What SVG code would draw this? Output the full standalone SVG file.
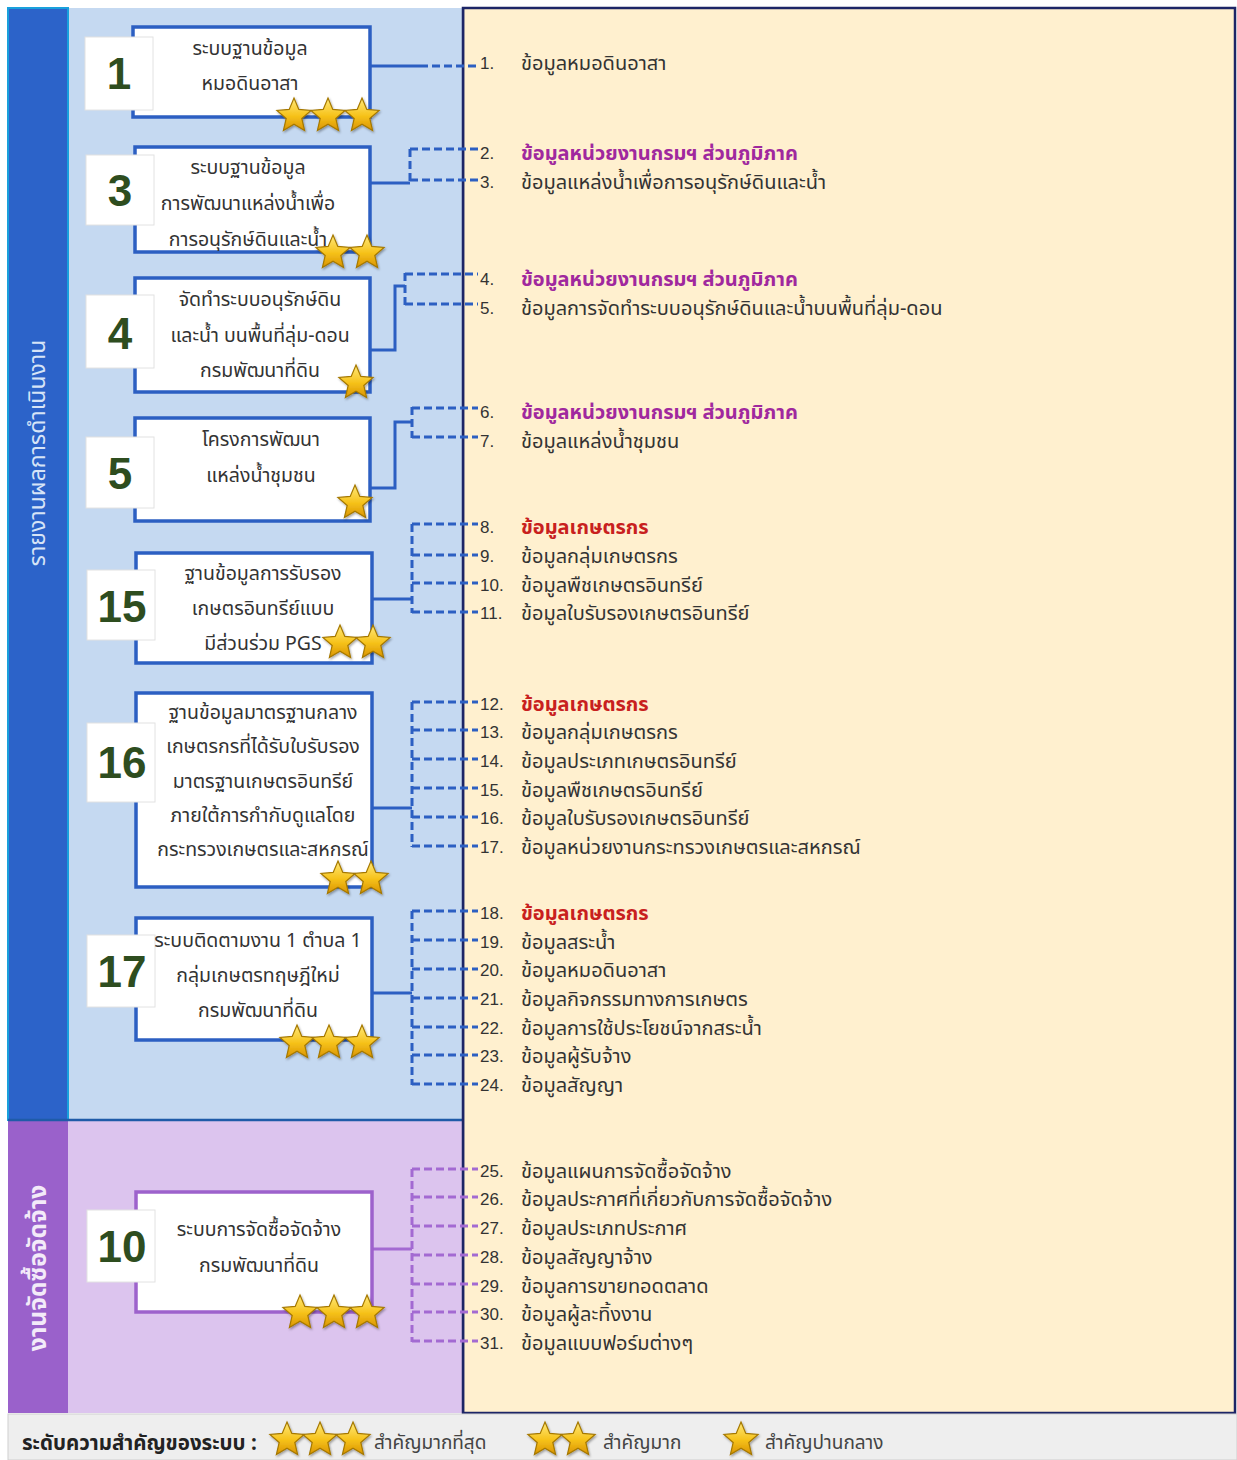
<svg xmlns="http://www.w3.org/2000/svg" xmlns:xlink="http://www.w3.org/1999/xlink" width="1237" height="1460" viewBox="0 0 1237 1460">
<defs>
<linearGradient id="gold" x1="0" y1="0" x2="0" y2="1">
<stop offset="0" stop-color="#ffe97a"/>
<stop offset="0.55" stop-color="#f6c21a"/>
<stop offset="1" stop-color="#d99300"/>
</linearGradient>
<filter id="sh" x="-30%" y="-30%" width="160%" height="160%">
<feDropShadow dx="1" dy="1.5" stdDeviation="1.2" flood-color="#000" flood-opacity="0.35"/>
</filter>
<path id="star" d="M0,-18 L4.8,-6.6 L17.1,-5.6 L7.8,2.5 L10.6,14.6 L0,8.2 L-10.6,14.6 L-7.8,2.5 L-17.1,-5.6 L-4.8,-6.6 Z" fill="url(#gold)" stroke="#a57800" stroke-width="1.2" filter="url(#sh)"/>
</defs>
<style>
.th{font-family:"Noto Sans Thai","Tahoma","Noto Sans","DejaVu Sans",sans-serif}
.nt{font-size:19.5px;fill:#333;text-anchor:middle}
.num{font-family:"Liberation Sans",Arial,sans-serif;font-weight:bold;font-size:44px;fill:#2e4d1f;text-anchor:middle}
.it{font-size:20px;fill:#333}
.in{font-family:"Liberation Sans",Arial,sans-serif;font-size:17px;fill:#333}
.mag{fill:#a0289e;font-weight:bold}
.red{fill:#c8201e;font-weight:bold}
.box{fill:#fff;stroke:#2c5fc2;stroke-width:3.5}
.boxp{fill:#fff;stroke:#9d62cc;stroke-width:3.5}
.sq{fill:#fff;stroke:#e2e2e2;stroke-width:1}
.sol{stroke:#2c5fc2;stroke-width:3;fill:none}
.dsh{stroke:#2c5fc2;stroke-width:3;stroke-dasharray:8 4;fill:none}
.solp{stroke:#a36ad2;stroke-width:3;fill:none}
.dshp{stroke:#a36ad2;stroke-width:3;stroke-dasharray:8 4;fill:none}
</style>

<!-- background panels -->
<rect x="463" y="8" width="772" height="1405" fill="#fff0cf" stroke="#1c2566" stroke-width="2.5"/>
<rect x="68" y="8" width="395" height="1112" fill="#c5d9f1"/>
<rect x="8" y="8" width="60" height="1112" fill="#2c63c9" stroke="#19a0dc" stroke-width="2"/>
<rect x="68" y="1121" width="395" height="292" fill="#dcc4ee"/>
<rect x="8" y="1121" width="60" height="292" fill="#9a61cb"/>
<line x1="8" y1="1120" x2="463" y2="1120" stroke="#1f5ba8" stroke-width="2.5"/>
<line x1="463" y1="8" x2="463" y2="1413" stroke="#1c2566" stroke-width="2.5"/>
<text class="th" transform="translate(45,453) rotate(-90)" text-anchor="middle" font-size="23" fill="#d6e4f7">รายงานผลการดำเนินงาน</text>
<text class="th" transform="translate(46,1268) rotate(-90)" text-anchor="middle" font-size="24.5" font-weight="bold" fill="#f3eaf9">งานจัดซื้อจัดจ้าง</text>

<!-- connectors -->
<g id="connectors">
<path class="sol" d="M370,66 H420"/>
<path class="dsh" d="M420,66 H478"/>
<path class="sol" d="M370,183 H410"/>
<path class="dsh" d="M410,149 V181 M410,149 H478 M410,180 H478"/>
<path class="sol" d="M370,350 H395 V286 H405"/>
<path class="dsh" d="M405,273 V305 M405,274 H478 M405,304 H478"/>
<path class="sol" d="M370,488 H395 V422 H412"/>
<path class="dsh" d="M412,407 V438 M412,408 H478 M412,437 H478"/>
<path class="sol" d="M372,599 H412"/>
<path class="dsh" d="M412,524 V613 M412,524 H478 M412,555 H478 M412,583 H478 M412,612 H478"/>
<path class="sol" d="M372,808 H412"/>
<path class="dsh" d="M412,702 V847 M412,702 H478 M412,730 H478 M412,759 H478 M412,788 H478 M412,817 H478 M412,846 H478"/>
<path class="sol" d="M372,993 H412"/>
<path class="dsh" d="M412,911 V1085 M412,911 H478 M412,940 H478 M412,969 H478 M412,998 H478 M412,1027 H478 M412,1055 H478 M412,1084 H478"/>
<path class="solp" d="M372,1249 H412"/>
<path class="dshp" d="M412,1169 V1342 M412,1169 H478 M412,1197 H478 M412,1226 H478 M412,1255 H478 M412,1284 H478 M412,1312 H478 M412,1341 H478"/>
</g>

<!-- nodes -->
<g id="node1">
<rect class="box" x="133" y="27" width="237" height="90"/>
<rect class="sq" x="85" y="37" width="68" height="73"/>
<text class="num" x="119" y="89">1</text>
<text class="th nt" x="250" y="55">ระบบฐานข้อมูล</text>
<text class="th nt" x="250" y="90">หมอดินอาสา</text>
<use href="#star" x="294" y="116"/><use href="#star" x="328" y="116"/><use href="#star" x="362" y="116"/>
</g>
<g id="node3">
<rect class="box" x="135" y="147" width="235" height="105"/>
<rect class="sq" x="86" y="155" width="68" height="70"/>
<text class="num" x="120" y="206">3</text>
<text class="th nt" x="248" y="174">ระบบฐานข้อมูล</text>
<text class="th nt" x="248" y="210">การพัฒนาแหล่งน้ำเพื่อ</text>
<text class="th nt" x="248" y="246">การอนุรักษ์ดินและน้ำ</text>
<use href="#star" x="333" y="253"/><use href="#star" x="367" y="253"/>
</g>
<g id="node4">
<rect class="box" x="135" y="278" width="235" height="114"/>
<rect class="sq" x="86" y="295" width="68" height="73"/>
<text class="num" x="120" y="349">4</text>
<text class="th nt" x="260" y="306">จัดทำระบบอนุรักษ์ดิน</text>
<text class="th nt" x="260" y="342">และน้ำ บนพื้นที่ลุ่ม-ดอน</text>
<text class="th nt" x="260" y="377">กรมพัฒนาที่ดิน</text>
<use href="#star" x="356" y="383"/>
</g>
<g id="node5">
<rect class="box" x="135" y="418" width="235" height="103"/>
<rect class="sq" x="86" y="437" width="68" height="71"/>
<text class="num" x="120" y="489">5</text>
<text class="th nt" x="261" y="446">โครงการพัฒนา</text>
<text class="th nt" x="261" y="482">แหล่งน้ำชุมชน</text>
<use href="#star" x="355" y="503"/>
</g>
<g id="node15">
<rect class="box" x="136" y="553" width="236" height="110"/>
<rect class="sq" x="87" y="570" width="68" height="70"/>
<text class="num" x="122" y="622">15</text>
<text class="th nt" x="263" y="580">ฐานข้อมูลการรับรอง</text>
<text class="th nt" x="263" y="615">เกษตรอินทรีย์แบบ</text>
<text class="th nt" x="263" y="650">มีส่วนร่วม PGS</text>
<use href="#star" x="340" y="643"/><use href="#star" x="373" y="643"/>
</g>
<g id="node16">
<rect class="box" x="136" y="693" width="236" height="194"/>
<rect class="sq" x="87" y="723" width="68" height="79"/>
<text class="num" x="122" y="778">16</text>
<text class="th nt" x="263" y="719">ฐานข้อมูลมาตรฐานกลาง</text>
<text class="th nt" x="263" y="753">เกษตรกรที่ได้รับใบรับรอง</text>
<text class="th nt" x="263" y="788">มาตรฐานเกษตรอินทรีย์</text>
<text class="th nt" x="263" y="822">ภายใต้การกำกับดูแลโดย</text>
<text class="th nt" x="263" y="856">กระทรวงเกษตรและสหกรณ์</text>
<use href="#star" x="338" y="879"/><use href="#star" x="371" y="879"/>
</g>
<g id="node17">
<rect class="box" x="136" y="918" width="236" height="122"/>
<rect class="sq" x="87" y="935" width="68" height="72"/>
<text class="num" x="122" y="987">17</text>
<text class="th nt" x="258" y="947">ระบบติดตามงาน 1 ตำบล 1</text>
<text class="th nt" x="258" y="982">กลุ่มเกษตรทฤษฎีใหม่</text>
<text class="th nt" x="258" y="1017">กรมพัฒนาที่ดิน</text>
<use href="#star" x="297" y="1043"/><use href="#star" x="329" y="1043"/><use href="#star" x="362" y="1043"/>
</g>
<g id="node10">
<rect class="boxp" x="136" y="1192" width="236" height="120"/>
<rect class="sq" x="87" y="1210" width="68" height="72"/>
<text class="num" x="122" y="1262">10</text>
<text class="th nt" x="259" y="1236">ระบบการจัดซื้อจัดจ้าง</text>
<text class="th nt" x="259" y="1272">กรมพัฒนาที่ดิน</text>
<use href="#star" x="300" y="1313"/><use href="#star" x="334" y="1313"/><use href="#star" x="367" y="1313"/>
</g>

<!-- data items -->
<g id="items">
<text class="in" x="480" y="69">1.</text><text class="th it" x="521" y="70">ข้อมูลหมอดินอาสา</text>
<text class="in" x="480" y="159">2.</text><text class="th it mag" x="521" y="160">ข้อมูลหน่วยงานกรมฯ ส่วนภูมิภาค</text>
<text class="in" x="480" y="188">3.</text><text class="th it" x="521" y="189">ข้อมูลแหล่งน้ำเพื่อการอนุรักษ์ดินและน้ำ</text>
<text class="in" x="480" y="285">4.</text><text class="th it mag" x="521" y="286">ข้อมูลหน่วยงานกรมฯ ส่วนภูมิภาค</text>
<text class="in" x="480" y="314">5.</text><text class="th it" x="521" y="315">ข้อมูลการจัดทำระบบอนุรักษ์ดินและน้ำบนพื้นที่ลุ่ม-ดอน</text>
<text class="in" x="480" y="418">6.</text><text class="th it mag" x="521" y="419">ข้อมูลหน่วยงานกรมฯ ส่วนภูมิภาค</text>
<text class="in" x="480" y="447">7.</text><text class="th it" x="521" y="448">ข้อมูลแหล่งน้ำชุมชน</text>
<text class="in" x="480" y="533">8.</text><text class="th it red" x="521" y="534">ข้อมูลเกษตรกร</text>
<text class="in" x="480" y="562">9.</text><text class="th it" x="521" y="563">ข้อมูลกลุ่มเกษตรกร</text>
<text class="in" x="480" y="591">10.</text><text class="th it" x="521" y="592">ข้อมูลพืชเกษตรอินทรีย์</text>
<text class="in" x="480" y="619">11.</text><text class="th it" x="521" y="620">ข้อมูลใบรับรองเกษตรอินทรีย์</text>
<text class="in" x="480" y="710">12.</text><text class="th it red" x="521" y="711">ข้อมูลเกษตรกร</text>
<text class="in" x="480" y="738">13.</text><text class="th it" x="521" y="739">ข้อมูลกลุ่มเกษตรกร</text>
<text class="in" x="480" y="767">14.</text><text class="th it" x="521" y="768">ข้อมูลประเภทเกษตรอินทรีย์</text>
<text class="in" x="480" y="796">15.</text><text class="th it" x="521" y="797">ข้อมูลพืชเกษตรอินทรีย์</text>
<text class="in" x="480" y="824">16.</text><text class="th it" x="521" y="825">ข้อมูลใบรับรองเกษตรอินทรีย์</text>
<text class="in" x="480" y="853">17.</text><text class="th it" x="521" y="854">ข้อมูลหน่วยงานกระทรวงเกษตรและสหกรณ์</text>
<text class="in" x="480" y="919">18.</text><text class="th it red" x="521" y="920">ข้อมูลเกษตรกร</text>
<text class="in" x="480" y="948">19.</text><text class="th it" x="521" y="949">ข้อมูลสระน้ำ</text>
<text class="in" x="480" y="976">20.</text><text class="th it" x="521" y="977">ข้อมูลหมอดินอาสา</text>
<text class="in" x="480" y="1005">21.</text><text class="th it" x="521" y="1006">ข้อมูลกิจกรรมทางการเกษตร</text>
<text class="in" x="480" y="1034">22.</text><text class="th it" x="521" y="1035">ข้อมูลการใช้ประโยชน์จากสระน้ำ</text>
<text class="in" x="480" y="1062">23.</text><text class="th it" x="521" y="1063">ข้อมูลผู้รับจ้าง</text>
<text class="in" x="480" y="1091">24.</text><text class="th it" x="521" y="1092">ข้อมูลสัญญา</text>
<text class="in" x="480" y="1177">25.</text><text class="th it" x="521" y="1178">ข้อมูลแผนการจัดซื้อจัดจ้าง</text>
<text class="in" x="480" y="1205">26.</text><text class="th it" x="521" y="1206">ข้อมูลประกาศที่เกี่ยวกับการจัดซื้อจัดจ้าง</text>
<text class="in" x="480" y="1234">27.</text><text class="th it" x="521" y="1235">ข้อมูลประเภทประกาศ</text>
<text class="in" x="480" y="1263">28.</text><text class="th it" x="521" y="1264">ข้อมูลสัญญาจ้าง</text>
<text class="in" x="480" y="1292">29.</text><text class="th it" x="521" y="1293">ข้อมูลการขายทอดตลาด</text>
<text class="in" x="480" y="1320">30.</text><text class="th it" x="521" y="1321">ข้อมูลผู้ละทิ้งงาน</text>
<text class="in" x="480" y="1349">31.</text><text class="th it" x="521" y="1350">ข้อมูลแบบฟอร์มต่างๆ</text>
</g>

<!-- legend -->
<g id="legend">
<rect x="8" y="1414" width="1229" height="46" fill="#eeeeee" stroke="#cfcfcf" stroke-width="1"/>
<text class="th" x="22" y="1450" font-size="20.5" font-weight="bold" fill="#222">ระดับความสำคัญของระบบ :</text>
<use href="#star" x="287" y="1440"/><use href="#star" x="320" y="1440"/><use href="#star" x="353" y="1440"/>
<text class="th" x="374" y="1449" font-size="19" fill="#444">สำคัญมากที่สุด</text>
<use href="#star" x="545" y="1440"/><use href="#star" x="578" y="1440"/>
<text class="th" x="603" y="1449" font-size="19" fill="#444">สำคัญมาก</text>
<use href="#star" x="741" y="1440"/>
<text class="th" x="765" y="1449" font-size="19" fill="#444">สำคัญปานกลาง</text>
</g>
</svg>
